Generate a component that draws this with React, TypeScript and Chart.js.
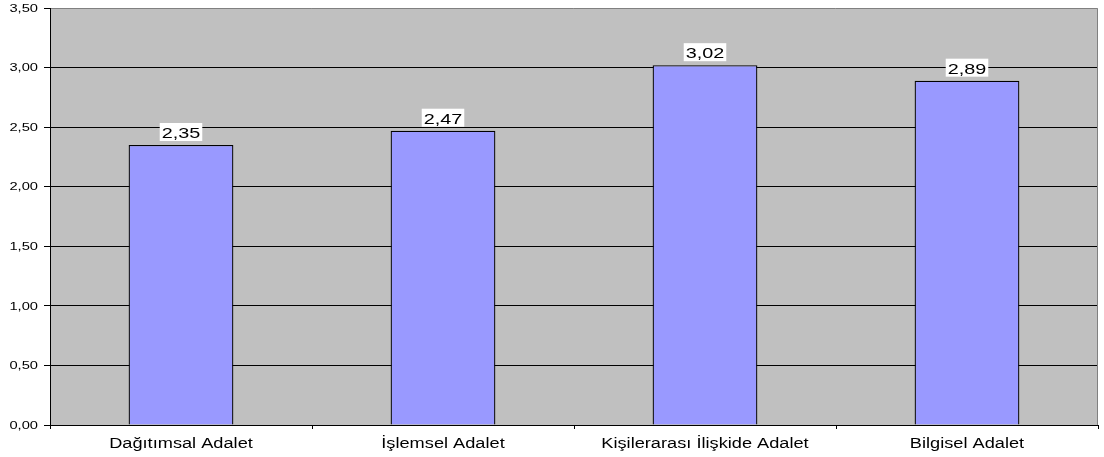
import React, { useEffect, useRef } from "react";
import { Chart, registerables } from "chart.js";

Chart.register(...registerables);

const categories = ["Dağıtımsal Adalet", "İşlemsel Adalet", "Kişilerarası İlişkide Adalet", "Bilgisel Adalet"];
const values = [2.35, 2.47, 3.02, 2.89];
const yMin = 0;
const yMax = 3.5;
const yStep = 0.5;

const FONT = "'Liberation Sans', Arial, sans-serif";
const fmt = (v: number) => v.toFixed(2).replace(".", ",");

function drawText(ctx: any, txt: string, x: number, y: number, size: number, sx: number, align: "left" | "center" | "right") {
  ctx.save();
  ctx.font = `${size}px ${FONT}`;
  ctx.textBaseline = "alphabetic";
  ctx.textAlign = "left";
  const w = ctx.measureText(txt).width * sx;
  let left = x;
  if (align === "center") left = x - w / 2;
  if (align === "right") left = x - w;
  ctx.translate(left, y);
  ctx.scale(sx, 1);
  ctx.fillText(txt, 0, 0);
  ctx.restore();
  return w;
}

const plotBg = {
  id: "plotBg",
  beforeDraw(chart: any) {
    const { ctx, chartArea: a } = chart;
    ctx.save();
    ctx.fillStyle = "#C0C0C0";
    ctx.fillRect(a.left, a.top, a.right - a.left, a.bottom - a.top);
    ctx.restore();
  },
  afterDatasetsDraw(chart: any) {
    const { ctx, chartArea: a } = chart;
    ctx.save();
    ctx.lineWidth = 1;
    ctx.strokeStyle = "#808080";
    ctx.beginPath();
    ctx.moveTo(a.left, a.top + 0.5);
    ctx.lineTo(a.right - 0.5, a.top + 0.5);
    ctx.lineTo(a.right - 0.5, a.bottom);
    ctx.stroke();
    ctx.strokeStyle = "#000";
    ctx.beginPath();
    ctx.moveTo(a.left + 0.5, a.top);
    ctx.lineTo(a.left + 0.5, a.bottom + 0.5);
    ctx.lineTo(a.right, a.bottom + 0.5);
    ctx.stroke();

    ctx.fillStyle = "#000";
    // y tick labels
    const ys = chart.scales.y;
    ys.ticks.forEach((t: any) => {
      const py = ys.getPixelForValue(t.value);
      drawText(ctx, fmt(t.value), 38, py + 3.7, 10.5, 1.4, "right");
    });
    // x tick labels
    const xs = chart.scales.x;
    categories.forEach((c, i) => {
      const px = xs.getPixelForValue(i);
      drawText(ctx, c, px, 448, 14, 1.3, "center");
    });

    // data labels
    const meta = chart.getDatasetMeta(0);
    meta.data.forEach((bar: any, i: number) => {
      const txt = fmt(values[i]);
      ctx.font = `15px ${FONT}`;
      const w = ctx.measureText(txt).width * 1.32 + 4;
      const h = 18;
      const cx = bar.x;
      const bottom = bar.y - 4;
      ctx.fillStyle = "#fff";
      ctx.fillRect(cx - w / 2, bottom - h, w, h);
      ctx.fillStyle = "#000";
      drawText(ctx, txt, cx, bottom - 3, 15, 1.32, "center");
    });
    ctx.restore();
  },
};

export default function App() {
  const ref = useRef<HTMLCanvasElement | null>(null);
  useEffect(() => {
    document.body.style.margin = "0";
    const chart = new Chart(ref.current!, {
      type: "bar",
      data: {
        labels: categories,
        datasets: [
          {
            data: values,
            backgroundColor: "#9999FF",
            borderColor: "#000",
            borderWidth: 1.3,
            categoryPercentage: 1,
            barPercentage: 0.4,
          },
        ],
      },
      options: {
        animation: false,
        responsive: false,
        maintainAspectRatio: false,
        layout: { padding: { top: 8, right: 6, left: 0, bottom: 0 } },
        plugins: { legend: { display: false }, tooltip: { enabled: false } },
        scales: {
          x: {
            afterFit: (s: any) => { s.height = 32; },
            grid: { offset: true, drawOnChartArea: false, tickLength: 4, color: "#000", tickColor: "#000" },
            border: { display: false },
            ticks: { display: false },
          },
          y: {
            min: yMin,
            max: yMax,
            afterFit: (s: any) => { s.width = 50; },
            grid: { color: (c: any) => (c.tick && c.tick.value === yMax ? "rgba(0,0,0,0)" : "#000"), tickLength: 6, tickColor: "#000" },
            border: { display: false },
            ticks: { display: false, stepSize: yStep },
          },
        },
      },
      plugins: [plotBg],
    });
    return () => chart.destroy();
  }, []);
  return (
    <div style={{ width: 1104, height: 457, background: "#fff" }}>
      <canvas ref={ref} width={1104} height={457} style={{ display: "block" }} />
    </div>
  );
}
